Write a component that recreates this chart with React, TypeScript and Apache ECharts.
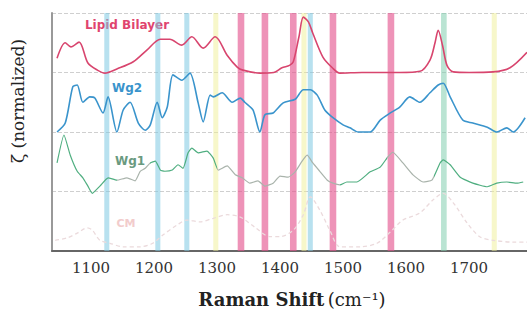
import React, { useEffect, useRef } from "react";
import * as echarts from "echarts";

const xTicks = [1100, 1200, 1300, 1400, 1500, 1600, 1700];

const pinkBands = [1338, 1376, 1421, 1484, 1576];
const blueBands = [1125, 1206, 1252, 1448];
const yellowBands = [1298, 1438, 1740];
const tealBands = [1660];

const lipid = [
  [1046, 3.24], [1059, 3.5], [1068, 3.43], [1081, 3.51], [1095, 3.16], [1110, 3.04],
  [1122, 2.99], [1141, 3.06], [1167, 3.18], [1189, 3.38], [1210, 3.56], [1225, 3.56],
  [1244, 3.46], [1260, 3.6], [1278, 3.41], [1297, 3.6], [1316, 3.29], [1332, 3.09],
  [1341, 3.04], [1368, 2.99], [1390, 3.0], [1403, 3.08], [1415, 3.12], [1421, 3.18],
  [1430, 3.6], [1437, 3.93], [1445, 3.85], [1452, 3.66], [1468, 3.26], [1483, 3.08],
  [1495, 2.99], [1530, 3.0], [1560, 3.0], [1590, 3.0], [1622, 3.02], [1638, 3.21],
  [1646, 3.5], [1651, 3.71], [1658, 3.45], [1665, 3.12], [1675, 3.01], [1700, 3.0],
  [1738, 3.01], [1765, 3.08], [1792, 3.34],
];

const wg2 = [
  [1046, 2.0], [1059, 2.15], [1071, 2.76], [1078, 2.79], [1087, 2.5], [1098, 2.59],
  [1106, 2.57], [1119, 2.32], [1127, 2.59], [1141, 2.0], [1151, 2.37], [1162, 2.5],
  [1175, 2.15], [1186, 2.03], [1194, 2.12], [1205, 2.5], [1213, 2.24], [1221, 2.42],
  [1230, 2.96], [1244, 2.87], [1257, 2.99], [1270, 2.49], [1278, 2.17], [1289, 2.62],
  [1294, 2.59], [1308, 2.66], [1324, 2.5], [1337, 2.57], [1344, 2.5], [1357, 2.37],
  [1368, 2.0], [1376, 2.29], [1389, 2.32], [1405, 2.49], [1424, 2.55], [1437, 2.71],
  [1448, 2.71], [1459, 2.62], [1471, 2.37], [1484, 2.24], [1500, 2.12], [1511, 2.07],
  [1524, 2.0], [1543, 2.0], [1559, 2.2], [1575, 2.32], [1590, 2.42], [1606, 2.59],
  [1622, 2.5], [1638, 2.66], [1651, 2.79], [1659, 2.82], [1670, 2.59], [1690, 2.2],
  [1706, 2.15], [1729, 2.08], [1744, 2.0], [1760, 2.07], [1770, 2.0], [1789, 2.24],
];

const wg1 = [
  [1046, 1.48], [1057, 1.95], [1067, 1.61], [1078, 1.34], [1087, 1.23], [1095, 1.09],
  [1102, 0.97], [1114, 1.09], [1127, 1.23], [1141, 1.19], [1157, 1.23], [1170, 1.18],
  [1178, 1.34], [1186, 1.39], [1194, 1.48], [1202, 1.51], [1210, 1.36], [1217, 1.34],
  [1229, 1.36], [1238, 1.45], [1246, 1.39], [1254, 1.65], [1260, 1.73], [1270, 1.65],
  [1284, 1.68], [1294, 1.56], [1302, 1.36], [1316, 1.43], [1329, 1.28], [1340, 1.23],
  [1352, 1.14], [1365, 1.18], [1376, 1.09], [1389, 1.14], [1400, 1.26], [1413, 1.24],
  [1424, 1.33], [1435, 1.51], [1443, 1.61], [1452, 1.48], [1463, 1.34], [1475, 1.19],
  [1484, 1.14], [1495, 1.11], [1506, 1.16], [1522, 1.16], [1543, 1.33], [1559, 1.41],
  [1571, 1.58], [1579, 1.66], [1595, 1.48], [1611, 1.28], [1627, 1.16], [1641, 1.19],
  [1654, 1.48], [1659, 1.53], [1670, 1.45], [1686, 1.24], [1706, 1.14], [1729, 1.08],
  [1744, 1.14], [1760, 1.16], [1776, 1.14], [1786, 1.16],
];

const cm = [
  [1043, 0.18], [1062, 0.22], [1078, 0.3], [1094, 0.39], [1102, 0.35], [1114, 0.18],
  [1130, 0.13], [1151, 0.07], [1178, 0.07], [1198, 0.13], [1214, 0.27], [1237, 0.44],
  [1252, 0.52], [1273, 0.49], [1294, 0.55], [1316, 0.61], [1337, 0.57], [1360, 0.4],
  [1384, 0.24], [1400, 0.24], [1421, 0.35], [1437, 0.61], [1448, 0.91], [1463, 0.69],
  [1479, 0.35], [1495, 0.07], [1527, 0.07], [1554, 0.13], [1575, 0.32], [1595, 0.52],
  [1622, 0.64], [1643, 0.86], [1659, 0.97], [1675, 0.81], [1697, 0.47], [1717, 0.24],
  [1738, 0.18], [1770, 0.15], [1792, 0.15],
];

// Wg1 segment colouring (green / grey) by wavenumber
const wg1GreenRanges = [
  [1000, 1141], [1194, 1300], [1495, 1570], [1645, 1800],
];

function bands(centers: number[], width: number, color: string) {
  return centers.map((c) => [
    { xAxis: c - width / 2, itemStyle: { color } },
    { xAxis: c + width / 2 },
  ]);
}

export default function App() {
  const ref = useRef<HTMLDivElement>(null);
  useEffect(() => {
    if (!ref.current) return;
    const chart = echarts.init(ref.current, null, { renderer: "svg" });
    const greenPieces: any[] = [];
    wg1GreenRanges.forEach(([a, b]) => greenPieces.push({ gt: a, lte: b, color: "#4fae80" }));
    const option: any = {
      animation: false,
      grid: { left: 52, right: 0, top: 13, bottom: 59 },
      xAxis: {
        type: "value",
        min: 1038,
        max: 1792,
        axisLine: { lineStyle: { color: "#666", width: 2 } },
        axisTick: { show: false },
        splitLine: { show: false },
        axisLabel: {
          customValues: xTicks,
          formatter: (v: number) => String(v),
          fontFamily: "DejaVu Serif",
          fontSize: 15,
          color: "#333",
          margin: 9,
        },
      },
      yAxis: {
        type: "value",
        min: 0,
        max: 4,
        interval: 1,
        axisLine: { show: true, lineStyle: { color: "#999", width: 2 } },
        axisLabel: { show: false },
        axisTick: { show: false },
        splitLine: { show: true, lineStyle: { color: "#cfcfcf", type: "dashed", width: 1 } },
      },
      visualMap: {
        show: false,
        type: "piecewise",
        seriesIndex: 2,
        dimension: 0,
        pieces: greenPieces,
        outOfRange: { color: "#a9b3ab" },
      },
      series: [
        {
          type: "line",
          name: "CM",
          data: cm,
          showSymbol: false,
          smooth: 0.3,
          lineStyle: { color: "#ebdadc", width: 1.3, type: [4, 3] },
          markArea: {
            silent: true,
            data: [
              ...bands(blueBands, 8, "rgba(125, 200, 225, 0.55)"),
              ...bands(yellowBands, 8, "rgba(240, 240, 150, 0.5)"),
              ...bands(tealBands, 9, "rgba(130, 205, 175, 0.55)"),
              ...bands(pinkBands, 10.5, "rgba(228, 80, 140, 0.62)"),
            ],
          },
        },
        {
          type: "line",
          name: "Wg2",
          data: wg2,
          showSymbol: false,
          smooth: 0.25,
          lineStyle: { color: "#3a94cc", width: 1.6 },
        },
        {
          type: "line",
          name: "Wg1",
          data: wg1,
          showSymbol: false,
          smooth: 0.15,
          lineStyle: { width: 1.2 },
        },
        {
          type: "line",
          name: "Lipid Bilayer",
          data: lipid,
          showSymbol: false,
          smooth: 0.3,
          lineStyle: { color: "#d8456e", width: 1.6 },
        },
      ],
      graphic: [
        {
          type: "text",
          x: 127,
          y: 25,
          style: {
            text: "Lipid Bilayer",
            fill: "#e0446e",
            font: "bold 12px 'DejaVu Sans'",
            align: "center",
            verticalAlign: "middle",
          },
        },
        {
          type: "text",
          x: 127,
          y: 88,
          style: {
            text: "Wg2",
            fill: "#3a94cc",
            font: "bold 12px 'DejaVu Sans'",
            align: "center",
            verticalAlign: "middle",
          },
        },
        {
          type: "text",
          x: 130,
          y: 161,
          style: {
            text: "Wg1",
            fill: "#6a9a80",
            font: "bold 12px 'DejaVu Sans'",
            align: "center",
            verticalAlign: "middle",
          },
        },
        {
          type: "text",
          x: 126,
          y: 223,
          style: {
            text: "CM",
            fill: "#f2cccc",
            font: "bold 11px 'DejaVu Sans'",
            align: "center",
            verticalAlign: "middle",
          },
        },
        {
          type: "text",
          x: 18,
          y: 101,
          rotation: Math.PI / 2,
          style: {
            text: "ζ (normalized)",
            fill: "#222",
            font: "17px 'DejaVu Serif'",
            align: "center",
            verticalAlign: "middle",
          },
        },
        {
          type: "text",
          x: 292,
          y: 299,
          style: {
            text: "{b|Raman Shift} {n|(cm⁻¹)}",
            align: "center",
            verticalAlign: "middle",
            rich: {
              b: { font: "bold 18px 'DejaVu Serif'", fill: "#222" },
              n: { font: "18px 'DejaVu Serif'", fill: "#222" },
            },
          },
        },
      ],
    };
    chart.setOption(option);
    return () => chart.dispose();
  }, []);
  return <div ref={ref} style={{ width: 527, height: 310, position: "absolute", left: 0, top: 0 }} />;
}
